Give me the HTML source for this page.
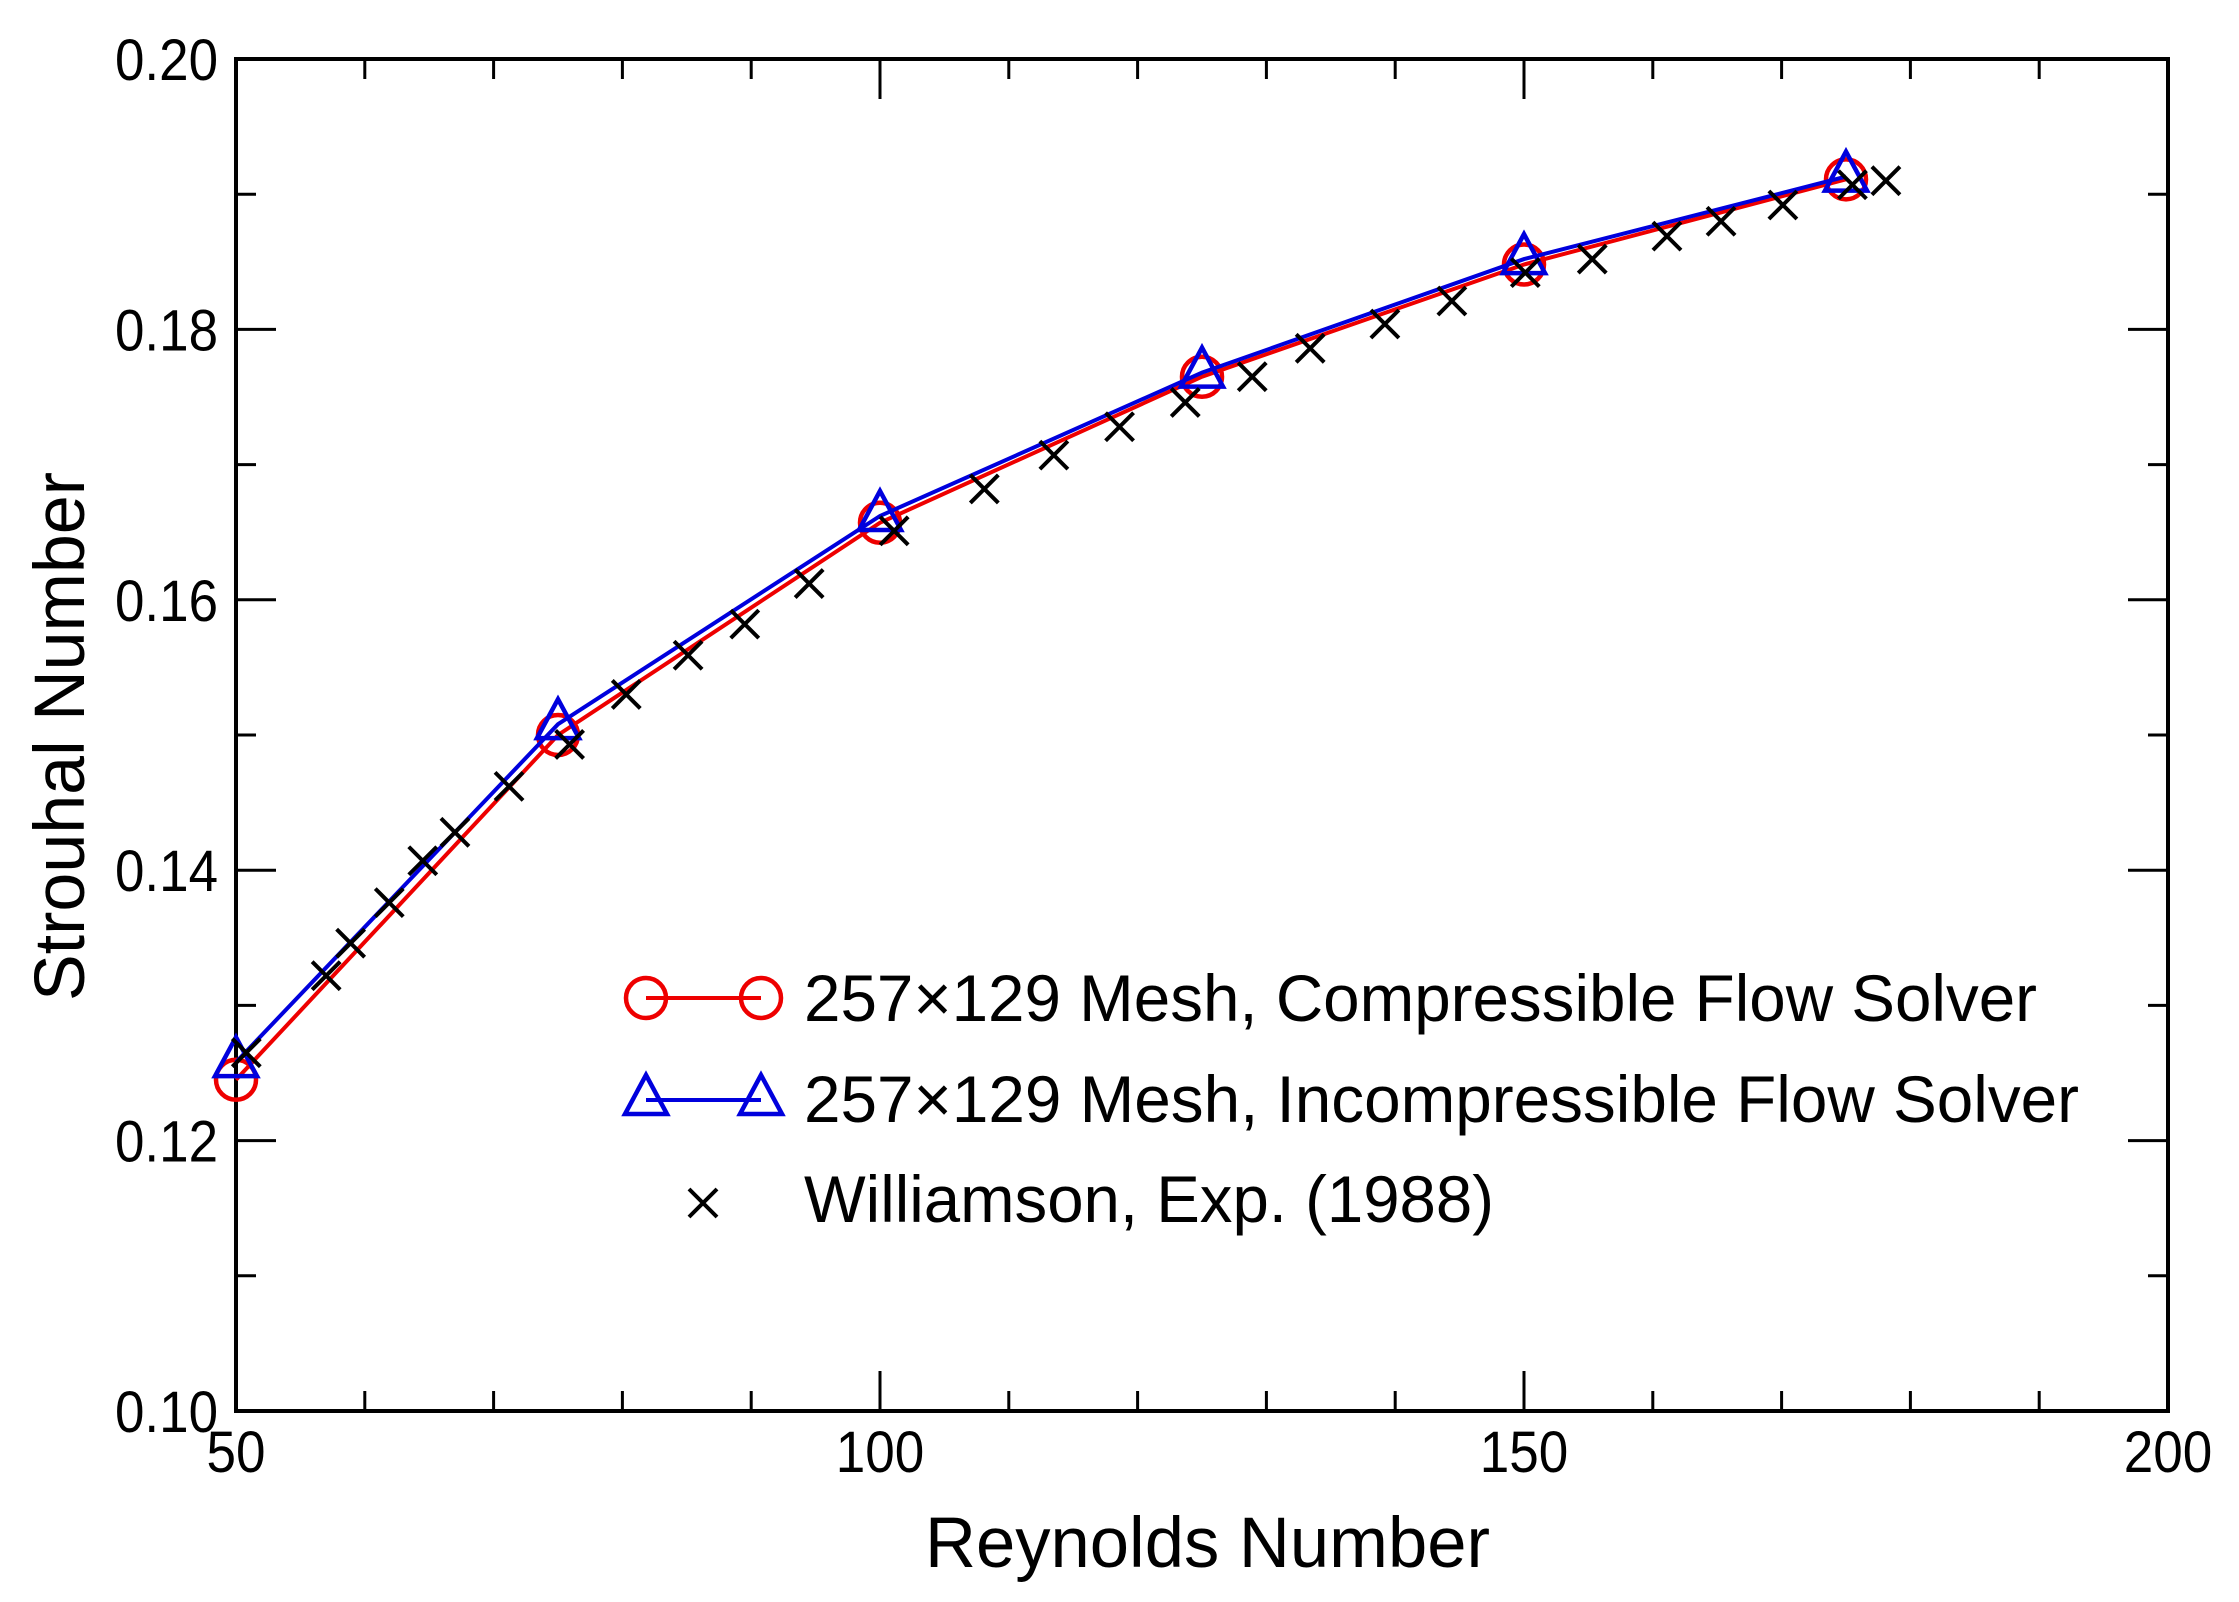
<!DOCTYPE html>
<html><head><meta charset="utf-8"><style>
html,body{margin:0;padding:0;background:#fff;}
svg{display:block;font-family:"Liberation Sans",Arial,sans-serif;}
</style></head><body>
<svg id="chart" width="2239" height="1602" viewBox="0 0 2239 1602">
<g id="axes"></g>
<g id="series"></g>
<g id="legend"></g>
</svg>
<script>
const reCompressible = [50, 75, 100, 125, 150, 175];
const stCompressible = [0.1245, 0.1500, 0.1657, 0.1765, 0.1848, 0.1911];
const reIncompressible = [50, 75, 100, 125, 150, 175];
const stIncompressible = [0.1258, 0.1508, 0.1662, 0.1768, 0.1852, 0.1913];
const reExp = [50.8,57.0,58.9,61.9,64.5,67.0,71.2,75.9,80.3,85.1,89.5,94.5,101.1,108.1,113.5,118.6,123.7,128.9,133.4,139.2,144.4,150.1,155.3,161.1,165.3,170.1,175.5,178.1];
const stExp = [0.1265,0.1322,0.1346,0.1376,0.1407,0.1428,0.1462,0.1493,0.1530,0.1559,0.1582,0.1612,0.1651,0.1682,0.1707,0.1728,0.1746,0.1765,0.1786,0.1804,0.1821,0.1842,0.1852,0.1869,0.1880,0.1892,0.1907,0.1910];
const xTickLabels = ["50","100","150","200"];
const yTickLabels = ["0.10","0.12","0.14","0.16","0.18","0.20"];

const NS="http://www.w3.org/2000/svg";
const L=236,R=2168,T=59,B=1411;
const xMin=50,xMax=200,yMin=0.10,yMax=0.20;
function sx(v){return L+(v-xMin)/(xMax-xMin)*(R-L);}
function sy(v){return B-(v-yMin)/(yMax-yMin)*(B-T);}
function mk(tag,attrs,parent){const e=document.createElementNS(NS,tag);for(const k in attrs)e.setAttribute(k,attrs[k]);parent.appendChild(e);return e;}
const axes=document.getElementById('axes'),series=document.getElementById('series'),legend=document.getElementById('legend');

const frame=mk('rect',{x:L,y:T,width:R-L,height:B-T,fill:'none',stroke:'#000','stroke-width':4},axes);


for(let v=50;v<=200;v+=10){
  const major=(v%50===0);const len=major?40:20;const x=sx(v);
  if(v>50&&v<200){
    const t1=mk('line',{x1:x,y1:B,x2:x,y2:B-len,stroke:'#000','stroke-width':3},axes);
    
    
    const t2=mk('line',{x1:x,y1:T,x2:x,y2:T+len,stroke:'#000','stroke-width':3},axes);
    
    
  }
}
xTickLabels.forEach(s=>{
  const t=mk('text',{x:sx(parseFloat(s)),y:1472,'text-anchor':'middle','font-size':58,textLength:s.length*29.5,lengthAdjust:'spacingAndGlyphs'},axes);
  t.textContent=s;
  
  
});
for(let i=0;i<=10;i++){
  const v=0.10+i*0.01;const major=(i%2===0);const len=major?40:20;const y=sy(v);
  if(i>0&&i<10){
    const t1=mk('line',{x1:L,y1:y,x2:L+len,y2:y,stroke:'#000','stroke-width':3},axes);
    
    
    const t2=mk('line',{x1:R,y1:y,x2:R-len,y2:y,stroke:'#000','stroke-width':3},axes);
    
    
  }
}
yTickLabels.forEach(s=>{
  const t=mk('text',{x:115,y:sy(parseFloat(s))+21,'font-size':58,textLength:103,lengthAdjust:'spacingAndGlyphs'},axes);
  t.textContent=s;
  
  
});
const xt=mk('text',{x:925,y:1567,'font-size':71,textLength:565,lengthAdjust:'spacingAndGlyphs'},axes);
xt.textContent='Reynolds Number';


const yt=mk('text',{x:-264,y:0,'font-size':71,textLength:529,lengthAdjust:'spacingAndGlyphs',transform:'translate(84,737) rotate(-90)'},axes);
yt.textContent='Strouhal Number';



function circle(x,y,p){return mk('circle',{cx:x,cy:y,r:20,fill:'none',stroke:'#e00','stroke-width':4.5},p);}
function tri(x,y,p){return mk('polygon',{points:`${x},${y-25} ${x-21},${y+14} ${x+21},${y+14}`,fill:'none',stroke:'#00d','stroke-width':4.5},p);}
function cross(x,y,p,s){return mk('path',{d:`M${x-s},${y-s}L${x+s},${y+s}M${x-s},${y+s}L${x+s},${y-s}`,stroke:'#000','stroke-width':4,fill:'none'},p);}

const pc=reCompressible.map((v,i)=>sx(v)+','+sy(stCompressible[i])).join(' ');
const lc=mk('polyline',{points:pc,fill:'none',stroke:'#e00','stroke-width':4},series);


reCompressible.forEach((v,i)=>{const c=circle(sx(v),sy(stCompressible[i]),series);
  
  });
const pi=reIncompressible.map((v,i)=>sx(v)+','+sy(stIncompressible[i])).join(' ');
const li=mk('polyline',{points:pi,fill:'none',stroke:'#00d','stroke-width':4},series);


reIncompressible.forEach((v,i)=>{const t=tri(sx(v),sy(stIncompressible[i]),series);
  
  });
reExp.forEach((v,i)=>{const c=cross(sx(v),sy(stExp[i]),series,14);
  
  });

const l1=mk('line',{x1:646,y1:998,x2:761,y2:998,stroke:'#e00','stroke-width':4},legend);


[646,761].forEach(x=>{const c=circle(x,998,legend);
  
  });
const l2=mk('line',{x1:646,y1:1100,x2:761,y2:1100,stroke:'#00d','stroke-width':4},legend);


[646,761].forEach(x=>{const t=tri(x,1100,legend);
  
  });
const lx=cross(703,1203,legend,14);


[['257×129 Mesh, Compressible Flow Solver',1021,1233],['257×129 Mesh, Incompressible Flow Solver',1122,1275],['Williamson, Exp. (1988)',1222,690]].forEach(([s,y,w])=>{
  const t=mk('text',{x:804,y:y,'font-size':66,textLength:w,lengthAdjust:'spacingAndGlyphs'},legend);
  t.textContent=s;
  
  
});
</script>
</body></html>
